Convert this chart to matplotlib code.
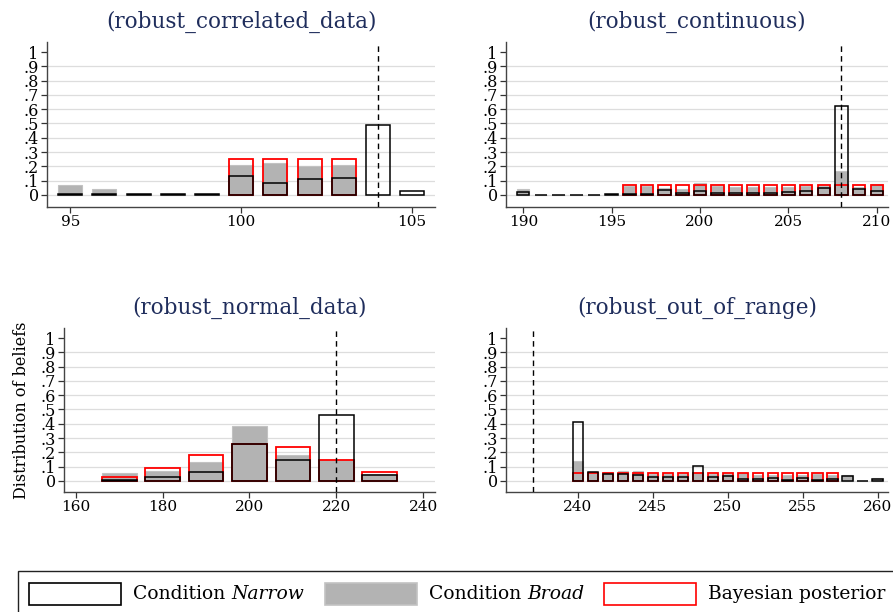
import numpy as np
import matplotlib.pyplot as plt
from matplotlib.patches import Rectangle

plt.rcParams['font.family'] = ['DejaVu Serif']

# (robust_correlated_data)
corr_x = [95, 96, 97, 98, 99, 100, 101, 102, 103, 104, 105]
corr_narrow = [0.01, 0.01, 0.005, 0.005, 0.01, 0.13, 0.085, 0.115, 0.12, 0.49, 0.03]
corr_broad = [0.07, 0.045, 0.01, 0.005, 0.01, 0.21, 0.225, 0.205, 0.21, 0.0, 0.0]
corr_post = [0, 0, 0, 0, 0, 0.25, 0.25, 0.25, 0.25, 0, 0]
corr_true = 104

# (robust_continuous)
cont_x = [190, 191, 192, 193, 194, 195, 196, 197, 198, 199, 200,
          201, 202, 203, 204, 205, 206, 207, 208, 209, 210]
cont_narrow = [0.02, 0.003, 0.003, 0.003, 0.003, 0.005, 0.01, 0.01, 0.035, 0.015, 0.025,
               0.015, 0.015, 0.015, 0.015, 0.02, 0.025, 0.05, 0.62, 0.04, 0.025]
cont_broad = [0.04, 0.003, 0.003, 0.003, 0.003, 0.005, 0.06, 0.06, 0.05, 0.04, 0.085,
              0.06, 0.055, 0.055, 0.055, 0.055, 0.06, 0.06, 0.17, 0.055, 0.075]
cont_post = [0, 0, 0, 0, 0, 0, 0.0667, 0.0667, 0.0667, 0.0667, 0.0667,
             0.0667, 0.0667, 0.0667, 0.0667, 0.0667, 0.0667, 0.0667, 0.0667, 0.0667, 0.0667]
cont_true = 208

# (robust_normal_data)
norm_x = [170, 180, 190, 200, 210, 220, 230]
norm_narrow = [0.01, 0.03, 0.065, 0.26, 0.145, 0.46, 0.045]
norm_broad = [0.055, 0.07, 0.13, 0.385, 0.18, 0.15, 0.05]
norm_post = [0.03, 0.09, 0.185, 0.26, 0.235, 0.15, 0.06]
norm_true = 220

# (robust_out_of_range)
range_x = [240, 241, 242, 243, 244, 245, 246, 247, 248, 249, 250,
           251, 252, 253, 254, 255, 256, 257, 258, 259, 260]
range_narrow = [0.41, 0.06, 0.05, 0.05, 0.045, 0.03, 0.025, 0.03, 0.105, 0.025, 0.035,
                0.015, 0.015, 0.02, 0.01, 0.02, 0.01, 0.015, 0.035, 0.003, 0.015]
range_broad = [0.14, 0.06, 0.06, 0.07, 0.07, 0.05, 0.05, 0.05, 0.055, 0.05, 0.05,
               0.055, 0.045, 0.045, 0.045, 0.045, 0.05, 0.045, 0.045, 0.0, 0.02]
range_post = [0.0556, 0.0556, 0.0556, 0.0556, 0.0556, 0.0556, 0.0556, 0.0556, 0.0556,
              0.0556, 0.0556, 0.0556, 0.0556, 0.0556, 0.0556, 0.0556, 0.0556, 0.0556, 0, 0, 0]
range_true = 237

ytick_vals = [0, 0.1, 0.2, 0.3, 0.4, 0.5, 0.6, 0.7, 0.8, 0.9, 1]
ytick_labels = ['0', '.1', '.2', '.3', '.4', '.5', '.6', '.7', '.8', '.9', '1']

TITLE_COL = '#1f2d5c'
GRAY = '#b3b3b3'
W, H = 893, 612


def px_box(left, top, right, bottom):
    return [left / W, 1 - bottom / H, (right - left) / W, (bottom - top) / H]


def draw_panel(ax, title, x, narrow, broad, post, truth, width, xlim, xticks, ylim):
    x = np.asarray(x, dtype=float)
    narrow = np.asarray(narrow)
    broad = np.asarray(broad)
    post = np.asarray(post)

    for y in ytick_vals[:-1]:
        ax.axhline(y, color='#dddddd', lw=0.9, zorder=0)

    # broad fill first, posterior outline over it, narrow outline on top
    m = broad > 0
    ax.bar(x[m], broad[m], width, color=GRAY, edgecolor='#c2c2c2', lw=0.8, zorder=2)
    m = post > 0
    ax.bar(x[m], post[m], width, fill=False, edgecolor='red', lw=1.3, zorder=3)
    m = narrow > 0
    ax.bar(x[m], narrow[m], width, fill=False, edgecolor='black', lw=1.1, zorder=4)
    ax.axvline(truth, color='black', ls=(0, (4, 3)), lw=1.0, zorder=5)

    ax.set_xlim(*xlim)
    ax.set_ylim(*ylim)
    ax.set_xticks(xticks)
    ax.set_yticks(ytick_vals)
    ax.set_yticklabels(ytick_labels)
    ax.tick_params(direction='out', length=4, width=0.9, color='#333333',
                   labelsize=11, pad=2)
    ax.tick_params(axis='y', labelsize=11.5)
    for s in ['top', 'right']:
        ax.spines[s].set_visible(False)
    for s in ['left', 'bottom']:
        ax.spines[s].set_color('#444444')
        ax.spines[s].set_linewidth(1.0)
    ax.set_title(title, color=TITLE_COL, fontsize=15.5, pad=10)


fig = plt.figure(figsize=(8.93, 6.12), dpi=100)

ax1 = fig.add_axes(px_box(47, 42, 435, 207))
draw_panel(ax1, '(robust_correlated_data)', corr_x, corr_narrow, corr_broad, corr_post,
           corr_true, 0.7, (94.32, 105.67), [95, 100, 105], (-0.084, 1.07))

ax2 = fig.add_axes(px_box(506, 42, 888, 207))
draw_panel(ax2, '(robust_continuous)', cont_x, cont_narrow, cont_broad, cont_post,
           cont_true, 0.7, (189.02, 210.64), [190, 195, 200, 205, 210], (-0.084, 1.07))

ax3 = fig.add_axes(px_box(64, 328, 435, 492))
draw_panel(ax3, '(robust_normal_data)', norm_x, norm_narrow, norm_broad, norm_post,
           norm_true, 8, (157.3, 242.7), [160, 180, 200, 220, 240], (-0.077, 1.07))

ax4 = fig.add_axes(px_box(506, 328, 888, 492))
draw_panel(ax4, '(robust_out_of_range)', range_x, range_narrow, range_broad, range_post,
           range_true, 0.7, (235.2, 260.69), [240, 245, 250, 255, 260], (-0.077, 1.07))

fig.text(22 / W, 1 - 410 / H, 'Distribution of beliefs', rotation=90,
         ha='center', va='center', fontsize=11.5)

# legend drawn by hand so the frame runs off the bottom edge
fig.patches.append(Rectangle((18 / W, -0.05), 1.0, 0.05 + 1 - 571 / H,
                             transform=fig.transFigure, fill=False,
                             edgecolor='#222222', lw=1.0))
keys = [
    (29, dict(facecolor='white', edgecolor='black'), 'Narrow'),
    (325, dict(facecolor=GRAY, edgecolor='#c2c2c2'), 'Broad'),
    (604, dict(facecolor='white', edgecolor='red'), None),
]
renderer = fig.canvas.get_renderer()
for kx, style, word in keys:
    fig.patches.append(Rectangle((kx / W, 1 - 605 / H), 92 / W, 22 / H,
                                 transform=fig.transFigure, lw=1.2, **style))
    tx = (kx + 104) / W
    ty = 1 - 594 / H
    if word is None:
        fig.text(tx, ty, 'Bayesian posterior', ha='left', va='center', fontsize=13.5)
    else:
        t = fig.text(tx, ty, 'Condition ', ha='left', va='center', fontsize=13.5)
        bb = t.get_window_extent(renderer=renderer)
        fig.text(bb.x1 / W, ty, word, ha='left', va='center', fontsize=13.5,
                 style='italic')

fig.savefig('out.png', dpi=100)
